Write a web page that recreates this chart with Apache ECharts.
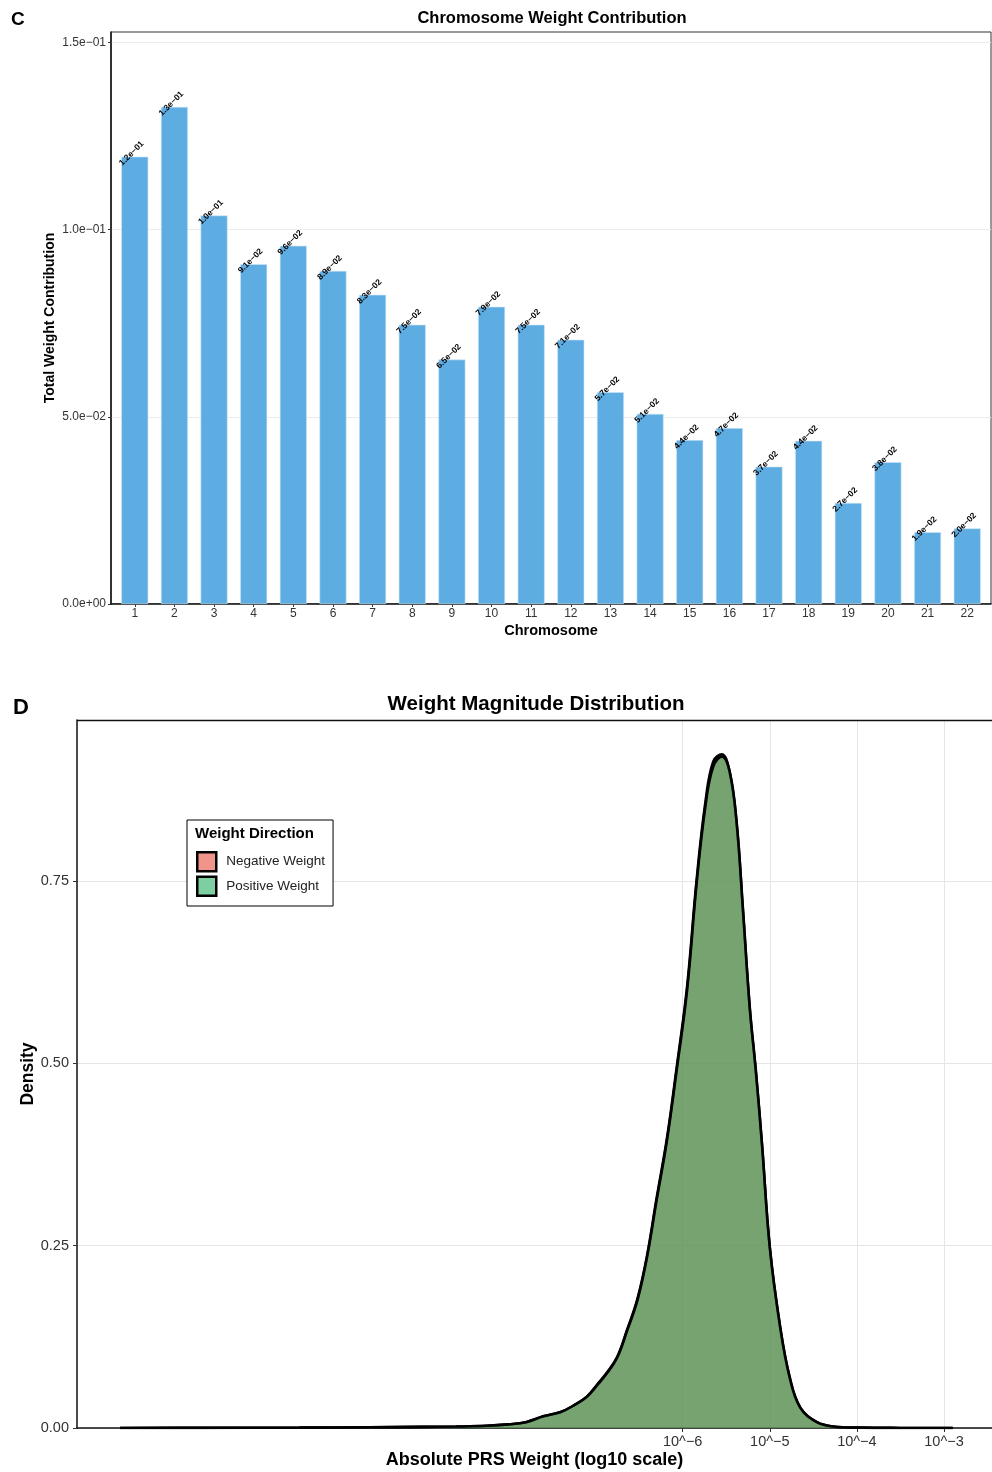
<!DOCTYPE html>
<html>
<head>
<meta charset="utf-8">
<script src="https://cdn.jsdelivr.net/npm/echarts@6/dist/echarts.min.js"></script>
<style>
  html, body { margin: 0; padding: 0; background: #fff; }
  #chart { width: 992px; height: 1472px; }
</style>
</head>
<body>
<div id="chart"></div>
<script>
// Panel C: total weight contribution per chromosome
const chromosomes = ['1','2','3','4','5','6','7','8','9','10','11','12','13','14','15','16','17','18','19','20','21','22'];
const weightContribution = [0.1195, 0.1328, 0.1038, 0.0908, 0.0957, 0.0890, 0.0826, 0.0746, 0.0653, 0.0794, 0.0746,
                            0.0706, 0.0566, 0.0508, 0.0438, 0.0470, 0.0367, 0.0436, 0.0270, 0.0379, 0.0192, 0.0202];
const contributionTicks = [0, 0.05, 0.10, 0.15];

// Panel D: density of |weight| on a log10 scale, split by sign
const logWeight = [-12.46, -11.5, -10.4, -9.6, -9.0, -8.6, -8.25, -8.0, -7.8, -7.6, -7.4, -7.25, -7.1, -6.98, -6.87,
                   -6.75, -6.64, -6.52, -6.41, -6.30, -6.18, -6.07, -5.95, -5.84, -5.74, -5.65, -5.55, -5.46, -5.38,
                   -5.31, -5.23, -5.16, -5.09, -5.00, -4.88, -4.77, -4.65, -4.46, -4.27, -3.96, -3.5, -2.90];
const negativeDensity = [0.000, 0.0002, 0.0005, 0.001, 0.0015, 0.002, 0.003, 0.005, 0.008, 0.016, 0.022, 0.031, 0.043,
                         0.060, 0.076, 0.098, 0.134, 0.177, 0.236, 0.315, 0.398, 0.494, 0.605, 0.752, 0.858, 0.914,
                         0.924, 0.899, 0.828, 0.712, 0.575, 0.488, 0.389, 0.247, 0.137, 0.068, 0.028, 0.008, 0.002,
                         0.0005, 0.0001, 0.000];
const positiveDensity = [0.000, 0.0002, 0.0005, 0.001, 0.0015, 0.002, 0.003, 0.005, 0.008, 0.016, 0.022, 0.031, 0.043,
                         0.059, 0.075, 0.097, 0.133, 0.175, 0.234, 0.312, 0.395, 0.490, 0.600, 0.747, 0.852, 0.907,
                         0.921, 0.900, 0.830, 0.715, 0.577, 0.490, 0.390, 0.248, 0.138, 0.069, 0.028, 0.008, 0.002,
                         0.0005, 0.0001, 0.000];
const densityTicks = [0, 0.25, 0.50, 0.75];
const weightTicks = [-6, -5, -4, -3];
const directionNames = ['Negative Weight', 'Positive Weight'];

const FONT = '"Liberation Sans", Arial, Helvetica, sans-serif';
const MINUS = '\u2212';

// R-style scientific notation, e.g. 1.2e−01
function sci(v, digits) {
  if (v === 0) return (0).toFixed(digits) + 'e+00';
  let exp = Math.floor(Math.log10(Math.abs(v)));
  let m = (v / Math.pow(10, exp)).toFixed(digits);
  if (parseFloat(m) >= 10) { exp += 1; m = (v / Math.pow(10, exp)).toFixed(digits); }
  const sign = exp < 0 ? MINUS : '+';
  return m + 'e' + sign + String(Math.abs(exp)).padStart(2, '0');
}

const chart = echarts.init(document.getElementById('chart'), null, { renderer: 'canvas' });

const axisLabelBase = { color: '#333', fontFamily: FONT };
const nameBase = { color: '#000', fontFamily: FONT, fontWeight: 'bold' };

const option = {
  animation: false,
  backgroundColor: '#fff',
  textStyle: { fontFamily: FONT },
  title: [
    { text: 'Chromosome Weight Contribution', left: 547, top: 5, textAlign: 'center',
      textStyle: { fontSize: 16.5, fontWeight: 'bold', color: '#000', fontFamily: FONT } },
    { text: 'Weight Magnitude Distribution', left: 531, top: 689, textAlign: 'center',
      textStyle: { fontSize: 20.5, fontWeight: 'bold', color: '#000', fontFamily: FONT } }
  ],
  graphic: [
    { type: 'text', left: 11, top: 10, style: { text: 'C', font: 'bold 19px ' + FONT, fill: '#000' } },
    { type: 'text', left: 13, top: 697, style: { text: 'D', font: 'bold 22px ' + FONT, fill: '#000' } },
    { type: 'text', left: 195, top: 826, z: 100, style: { text: 'Weight Direction', font: 'bold 15px ' + FONT, fill: '#000' } },
    // upper frame edge of panel D (the panel runs off the right edge)
    { type: 'line', z: 50, shape: { x1: 77, y1: 720.5, x2: 992, y2: 720.5 }, style: { stroke: '#111', lineWidth: 1.5 } }
  ],
  legend: {
    data: [
      { name: directionNames[0], itemStyle: { color: '#F1948A', borderColor: '#000', borderWidth: 2.5 } },
      { name: directionNames[1], itemStyle: { color: '#7DCEA0', borderColor: '#000', borderWidth: 2.5 } }
    ],
    orient: 'vertical',
    left: 187, top: 820,
    padding: [31, 8, 9, 9],
    itemWidth: 19, itemHeight: 19, itemGap: 3,
    icon: 'rect',
    backgroundColor: '#fff',
    borderColor: '#000', borderWidth: 1,
    textStyle: { fontSize: 13.5, color: '#222', fontFamily: FONT, padding: [0, 0, 0, 5] },
    selectedMode: false
  },
  grid: [
    { left: 111, right: 1, top: 32, bottom: 868, show: true, borderColor: '#333', borderWidth: 1, backgroundColor: '#fff' },
    { left: 77, right: 0, top: 720, bottom: 44, show: false }
  ],
  xAxis: [
    {
      gridIndex: 0, type: 'value', min: 0.4, max: 22.6,
      name: 'Chromosome', nameLocation: 'middle', nameGap: 19,
      nameTextStyle: Object.assign({ fontSize: 14.5 }, nameBase),
      axisLine: { show: true, onZero: false, lineStyle: { color: '#111', width: 1.5 } },
      axisTick: { show: true, length: 3, customValues: chromosomes.map((c, i) => i + 1), lineStyle: { color: '#333' } },
      axisLabel: Object.assign({ fontSize: 12, margin: 4, customValues: chromosomes.map((c, i) => i + 1),
        formatter: v => chromosomes[Math.round(v) - 1] }, axisLabelBase),
      splitLine: { show: false }
    },
    {
      gridIndex: 1, type: 'value', min: -12.954, max: -2.449,
      name: 'Absolute PRS Weight (log10 scale)', nameLocation: 'middle', nameGap: 23, nameMoveOverlap: false,
      nameTextStyle: Object.assign({ fontSize: 18 }, nameBase),
      axisLine: { show: true, onZero: false, lineStyle: { color: '#111', width: 1.5 } },
      axisTick: { show: true, length: 4, customValues: weightTicks, lineStyle: { color: '#333' } },
      axisLabel: Object.assign({ fontSize: 14.5, margin: 6, customValues: weightTicks,
        formatter: v => '10^' + MINUS + Math.abs(Math.round(v)) }, axisLabelBase),
      splitLine: { show: true, lineStyle: { color: '#e5e5e5', width: 1 } }
    }
  ],
  yAxis: [
    {
      gridIndex: 0, type: 'value', min: 0, max: 0.1528,
      name: 'Total Weight Contribution', nameLocation: 'middle', nameGap: 54, nameMoveOverlap: false,
      nameTextStyle: Object.assign({ fontSize: 14 }, nameBase),
      axisLine: { show: true, lineStyle: { color: '#111', width: 1.5 } },
      axisTick: { show: true, length: 3, customValues: contributionTicks, lineStyle: { color: '#333' } },
      axisLabel: Object.assign({ fontSize: 12, margin: 5, customValues: contributionTicks,
        formatter: v => sci(v, 1) }, axisLabelBase),
      splitLine: { show: true, lineStyle: { color: '#ebebeb', width: 1 } }
    },
    {
      gridIndex: 1, type: 'value', min: 0, max: 0.971,
      name: 'Density', nameLocation: 'middle', nameGap: 40, nameMoveOverlap: false,
      nameTextStyle: Object.assign({ fontSize: 17.5 }, nameBase),
      axisLine: { show: true, lineStyle: { color: '#111', width: 1.5 } },
      axisTick: { show: true, length: 4, customValues: densityTicks, lineStyle: { color: '#333' } },
      axisLabel: Object.assign({ fontSize: 14.5, margin: 8, customValues: densityTicks,
        formatter: v => v.toFixed(2) }, axisLabelBase),
      splitLine: { show: true, lineStyle: { color: '#e5e5e5', width: 1 } }
    }
  ],
  series: [
    {
      name: 'Total Weight Contribution',
      type: 'bar', xAxisIndex: 0, yAxisIndex: 0,
      barWidth: 27,
      data: weightContribution.map((v, i) => [i + 1, v]),
      itemStyle: { color: '#5DADE2', borderColor: '#cfe6f7', borderWidth: 0.6 },
      label: {
        show: true, position: 'top', distance: 0, rotate: 45,
        align: 'center', verticalAlign: 'bottom',
        fontSize: 8.5, fontWeight: 'bold', color: '#000', fontFamily: FONT,
        formatter: p => sci(p.value[1], 1)
      }
    },
    {
      name: directionNames[0],
      type: 'line', xAxisIndex: 1, yAxisIndex: 1,
      data: logWeight.map((x, i) => [x, negativeDensity[i]]),
      showSymbol: false, symbol: 'none', smooth: 0.4,
      lineStyle: { color: '#000', width: 2.6 },
      itemStyle: { color: '#F1948A' },
      areaStyle: { color: '#E74C3C', opacity: 0.6 },
      z: 3
    },
    {
      name: directionNames[1],
      type: 'line', xAxisIndex: 1, yAxisIndex: 1,
      data: logWeight.map((x, i) => [x, positiveDensity[i]]),
      showSymbol: false, symbol: 'none', smooth: 0.4,
      lineStyle: { color: '#000', width: 2.6 },
      itemStyle: { color: '#7DCEA0' },
      areaStyle: { color: '#27AE60', opacity: 0.6 },
      z: 4
    }
  ]
};

chart.setOption(option);
</script>
</body>
</html>
